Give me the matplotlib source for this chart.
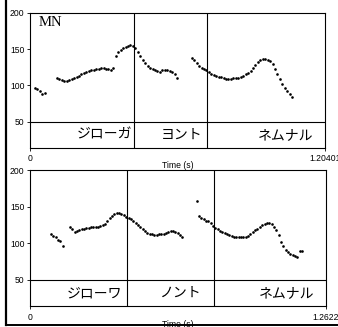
import numpy as np
import matplotlib
matplotlib.use('Agg')
import matplotlib.pyplot as plt
from matplotlib.lines import Line2D

### Pitch data (Hz), one list per voiced stretch, 0.01 s frame step
top_starts = [0.02, 0.11, 0.35, 0.66]
top_pitch = [
    [96, 94.5, 92, 88, 89],
    [109.5, 108.5, 107.5, 106.5, 106.5, 107.5, 108.5, 110, 111.5, 113.5, 115.5, 117,
     118.5, 119.5, 120.5, 121.5, 122.5, 123, 123.5, 123.5, 123, 122, 120.5, 124],
    [140.5, 146, 149, 151.5, 153, 154.5, 155, 154.5, 151, 146, 140.5, 135.5, 131, 127,
     124.5, 122.5, 121, 119.5, 118, 120.5, 121, 120.5, 119.5, 118, 115, 110],
    [138, 134.5, 131, 127, 124, 122.5, 121, 119, 116, 114, 113, 112, 111, 109.5, 109,
     109, 109, 109.5, 109.5, 110, 111.5, 113, 115, 117, 120, 124, 128.5, 132, 134.5,
     136, 136.5, 135.5, 133.5, 129, 122, 115, 109, 102, 97, 92, 87.5, 84],
]
bot_starts = [0.09, 0.17, 0.71, 1.15]
bot_pitch = [
    [113, 110.5, 108, 105, 102.5, 97],
    [122, 119, 116, 116.5, 118, 119, 120, 121, 121.5, 122, 122.5, 122.5, 122.5, 123,
     124.5, 127, 130.5, 134, 137.5, 140, 141.5, 141.5, 140.5, 138.5, 136, 134.5, 132.5,
     130, 128, 125.5, 122, 119, 116.5, 114.5, 113, 112.5, 112, 112, 112.5, 112.5, 113,
     114.5, 116, 117, 116.5, 115.5, 114, 111.5, 108],
    [158, 137, 134.5, 132.5, 131, 130, 127.5, 123.5, 121, 119, 117, 115, 113.5, 112.5,
     111.5, 110, 109, 108.5, 108.5, 108.5, 108.5, 109, 110.5, 112.5, 115, 117.5, 120,
     122.5, 125, 127, 128, 127.5, 126, 122.5, 118, 111, 102, 96, 91.5, 88, 86, 84.5,
     83, 81],
    [89.5, 89.5],
]

### Tiers
top_dur = 1.20401
top_bounds = [0.4245, 0.7224]
top_words = ['ジローガ', 'ヨント', 'ネムナル']
top_word_ends = [0.416, 0.702, 1.157]

bot_dur = 1.2622
bot_bounds = [0.4136, 0.7846]
bot_words = ['ジローワ', 'ノント', 'ネムナル']
bot_word_ends = [0.392, 0.729, 1.214]

ymin, ymax = 13.8, 200
tier_line = 50

plt.rcParams['font.family'] = ['Liberation Sans', 'DejaVu Sans']

fig = plt.figure(figsize=(3.38, 3.27), dpi=100)
ax1 = fig.add_axes([0.0888, 0.5474, 0.8728, 0.4138])
ax2 = fig.add_axes([0.0888, 0.0627, 0.8757, 0.4174])


def draw_panel(ax, starts, pitch, dur, bounds, words, word_ends, ticklab):
    for t0, seg in zip(starts, pitch):
        t = t0 + 0.01 * np.arange(len(seg))
        ax.plot(t, seg, 'o', color='black', ms=1.9, mew=0, linestyle='none')
    ax.set_xlim(0, dur)
    ax.set_ylim(ymin, ymax)
    ax.axhline(tier_line, color='black', lw=0.8)
    for b in bounds:
        ax.axvline(b, color='black', lw=0.8)
    for w, e in zip(words, word_ends):
        ax.text(e, (ymin + tier_line) / 2, w, ha='right', va='center', fontsize=10,
                family=['Noto Sans CJK JP', 'DejaVu Sans'])
    ax.set_yticks([50, 100, 150, 200])
    ax.set_xticks([0, dur])
    ax.set_xticklabels(['0', ticklab])
    ax.tick_params(direction='out', length=2.5, width=0.6, labelsize=6.2, pad=1.5)
    ax.tick_params(axis='x', pad=2)
    ax.set_xlabel('Time (s)', fontsize=6.2, labelpad=-1.5)
    for s in ax.spines.values():
        s.set_linewidth(0.8)


draw_panel(ax1, top_starts, top_pitch, top_dur, top_bounds, top_words, top_word_ends, '1.20401')
draw_panel(ax2, bot_starts, bot_pitch, bot_dur, bot_bounds, bot_words, bot_word_ends, '1.2622')

ax1.text(0.03, 0.975, 'MN', transform=ax1.transAxes, ha='left', va='top',
         fontsize=10.5, family='Liberation Serif')

### Outer frame (left and bottom edges)
fig.add_artist(Line2D([0.0192, 0.0192], [0.006, 1.0], color='black', lw=1.6))
fig.add_artist(Line2D([0.0192, 1.0], [0.006, 0.006], color='black', lw=1.4))

plt.savefig('out.png', dpi=100)
